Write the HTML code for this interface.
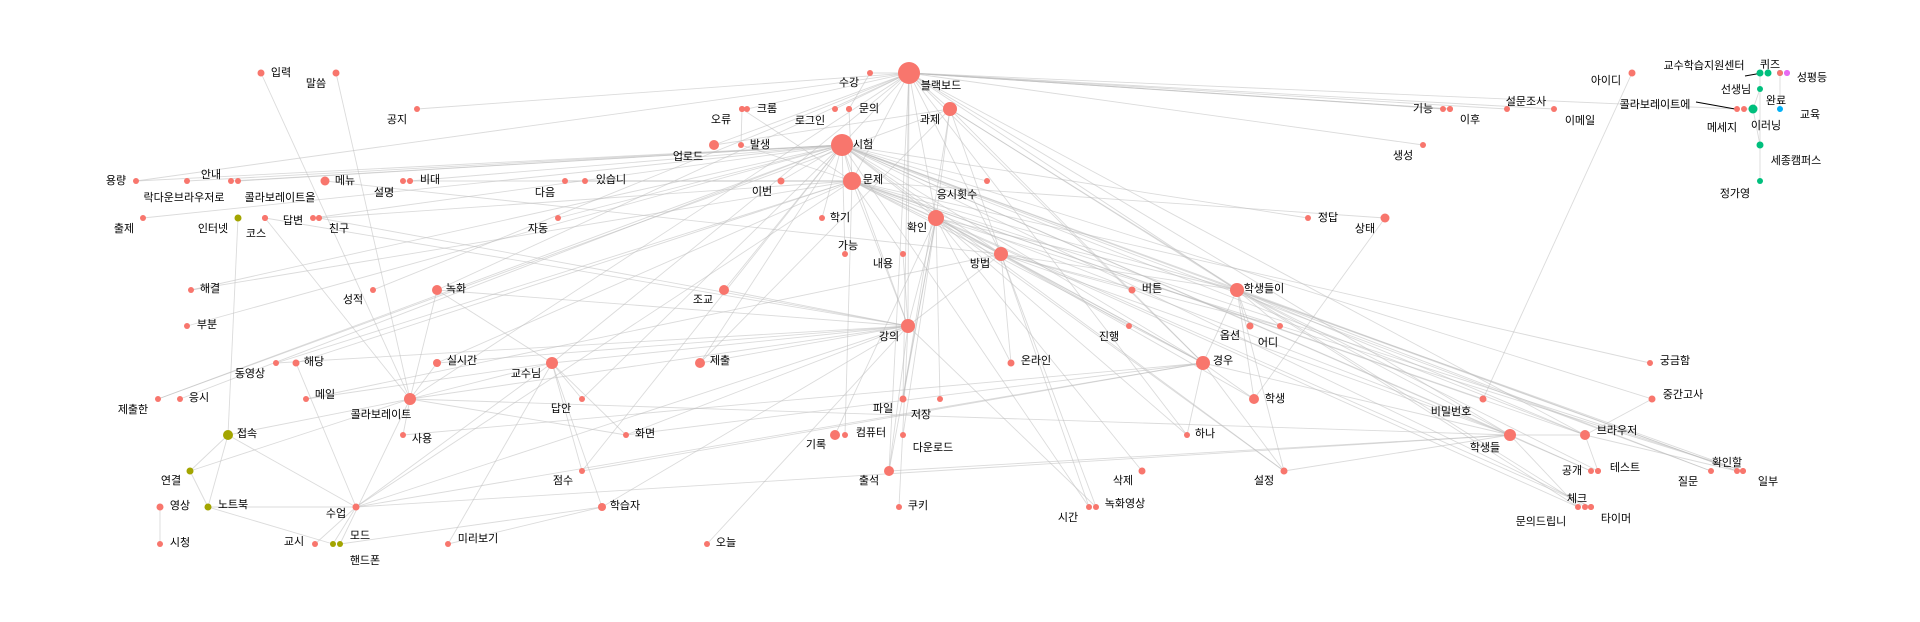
<!DOCTYPE html>
<html><head><meta charset="utf-8">
<style>
html,body{margin:0;padding:0;background:#fff;}
svg{display:block;}
text{font-family:"Liberation Sans","Noto Sans CJK KR","NanumGothic",sans-serif;font-size:11px;fill:#000;}
</style></head>
<body>
<svg id="chart" width="1920" height="622" viewBox="0 0 1920 622" xmlns="http://www.w3.org/2000/svg">
<g id="edges"></g>
<g id="extras">
  <line x1="1745" y1="76" x2="1762" y2="73" stroke="#000" stroke-width="1"/>
  <line x1="1696" y1="102" x2="1735" y2="109" stroke="#000" stroke-width="1"/>
</g>
<g id="nodes"></g>
<g id="labels"></g>
</svg>
<script>
// node data: name, x, y, radius, group, label x, label y
const names = ["블랙보드","수강","과제","크롬","오류","로그인","문의","시험","발생","업로드","문제","이번","응시횟수","학기","확인","가능","내용","방법","조교","버튼","학생들이","강의","진행","옵션","어디","제출","온라인","경우","파일","저장","학생","기록","컴퓨터","다운로드","하나","출석","삭제","설정","쿠키","시간","녹화영상","오늘",
"입력","말씀","공지","용량","락다운브라우저로","안내","콜라보레이트을","메뉴","설명","비대","다음","있습니","출제","인터넷","코스","답변","친구","자동","해결","성적","녹화","부분",
"해당","동영상","제출한","응시","메일","실시간","교수님","콜라보레이트","답안","사용","접속","화면","연결","점수","영상","노트북","수업","학습자","교시","핸드폰","모드","미리보기","시청",
"아이디","교수학습지원센터","퀴즈","파랑1","성평등","선생님","완료","교육","파랑2","콜라보레이트에","메세지","이러닝","기능","이후","설문조사","이메일","생성","세종캠퍼스","정가영","정답","상태",
"궁금함","중간고사","비밀번호","학생들","브라우저","공개","테스트","확인할","질문","일부","체크","문의드립니","타이머","안내2","설명2","답변2","크롬2","로그인2","기능2","공개2","확인할2","체크2"];
const nodeX = [909,870,950,742,742,835,849,842,741,714,852,781,987,822,936,845,903,1001,724,1132,1237,908,1129,1250,1280,700,1011,1203,903,940,1254,835,845,903,1187,889,1142,1284,899,1089,1096,707,
261,336,417,136,187,231,265,325,403,410,565,585,143,238,265,313,319,558,191,373,437,187,
296,276,158,180,306,437,552,410,582,403,228,626,190,582,160,208,356,602,315,333,340,448,160,
1632,1760,1768,1780,1787,1760,1780,1787,1780,1737,1744,1753,1443,1450,1507,1554,1423,1760,1760,1308,1385,
1650,1652,1483,1510,1585,1591,1598,1737,1711,1743,1578,1585,1591,238,410,319,747,849,1450,1598,1743,1591];
const nodeY = [73,73,109,109,109,109,109,145,145,145,181,181,181,218,218,254,254,254,290,290,290,326,326,326,326,363,363,363,399,399,399,435,435,435,435,471,471,471,507,507,507,544,
73,73,109,181,181,181,218,181,181,181,181,181,218,218,218,218,218,218,290,290,290,326,
363,363,399,399,399,363,363,399,399,435,435,435,471,471,507,507,507,507,544,544,544,544,544,
73,73,73,73,73,89,73,73,109,109,109,109,109,109,109,109,145,145,181,218,218,
363,399,399,435,435,471,471,471,471,471,507,507,507,181,181,218,109,109,109,471,471,507];
const nodeR = [11,3,7,3,3,3,3,11,3,5,9,3.5,3,3,8,3,3,7,5,3.5,7,7,3,3.5,3,5,3.5,7,3.5,3,5,5,3,3,3,5,3.5,3.5,3,3,3,3,
3.5,3.5,3,3,3,3,3,4.5,3,3,3,3,3,3.5,3,3,3,3,3,3,5,3,
3.5,3,3,3,3,4,6,6,3,3,5,3,3.5,3,3.5,3.5,3.5,4,3,3,3,3,3,
3.5,3.5,3.5,3,3,3,3,3,3,3,3,4.5,3,3,3,3,3,3.5,3,3,4.5,
3,3.5,3.5,6,5,3,3,3,3,3,3,3,3,3,3,3,3,3,3,3,3,3];
const nodeGroup = [];
const olive = ["인터넷","접속","연결","노트북","핸드폰","모드"];
const green = ["교수학습지원센터","퀴즈","선생님","콜라보레이트에2","이러닝","세종캠퍼스","정가영"];
const blue = ["파랑1","파랑2"];
const purple = ["성평등","교육"];
// label positions (center)
const labels = {"블랙보드":[941,85],"수강":[849,82],"과제":[930,119],"크롬":[767,108],"오류":[721,119],"로그인":[810,120],"문의":[869,108],"시험":[863,144],"발생":[760,144],"업로드":[688,156],"문제":[873,179],"이번":[762,191],"응시횟수":[957,194],"학기":[840,217],"확인":[917,227],"가능":[848,245],"내용":[883,263],"방법":[980,263],"조교":[703,299],"버튼":[1152,288],"학생들이":[1264,288],"강의":[889,336],"진행":[1109,336],"옵션":[1230,335],"어디":[1268,342],"제출":[720,360],"온라인":[1036,360],"경우":[1223,360],"파일":[883,408],"저장":[921,414],"학생":[1275,398],"기록":[816,444],"컴퓨터":[871,432],"다운로드":[933,447],"하나":[1205,433],"출석":[869,480],"삭제":[1123,480],"설정":[1264,480],"쿠키":[918,505],"시간":[1068,517],"녹화영상":[1125,503],"오늘":[726,542],
"입력":[281,72],"말씀":[316,83],"공지":[397,119],"용량":[116,180],"락다운브라우저로":[184,197],"안내":[211,174],"콜라보레이트을":[280,197],"메뉴":[345,180],"설명":[384,192],"비대":[430,179],"다음":[545,192],"있습니":[611,179],"출제":[124,228],"인터넷":[213,228],"코스":[256,233],"답변":[293,220],"친구":[339,228],"자동":[538,228],"해결":[210,288],"성적":[353,299],"녹화":[456,288],"부분":[207,324],
"해당":[314,361],"동영상":[250,373],"제출한":[133,409],"응시":[199,397],"메일":[325,394],"실시간":[462,360],"교수님":[526,373],"콜라보레이트":[381,414],"답안":[561,408],"사용":[422,438],"접속":[247,433],"화면":[645,433],"연결":[171,480],"점수":[563,480],"영상":[180,505],"노트북":[233,504],"수업":[336,513],"학습자":[625,505],"교시":[294,541],"핸드폰":[365,560],"모드":[360,535],"미리보기":[478,538],"시청":[180,542],
"아이디":[1606,80],"교수학습지원센터":[1704,65],"퀴즈":[1770,64],"성평등":[1812,77],"선생님":[1736,89],"완료":[1776,100],"교육":[1810,114],"콜라보레이트에":[1655,104],"메세지":[1722,127],"이러닝":[1766,125],"기능":[1423,108],"이후":[1470,119],"설문조사":[1526,101],"이메일":[1580,120],"생성":[1403,155],"세종캠퍼스":[1796,160],"정가영":[1735,193],"정답":[1328,217],"상태":[1365,228],
"궁금함":[1675,360],"중간고사":[1683,394],"비밀번호":[1451,411],"학생들":[1485,447],"브라우저":[1617,430],"공개":[1572,470],"테스트":[1625,467],"확인할":[1727,462],"질문":[1688,481],"일부":[1768,481],"체크":[1577,498],"문의드립니":[1541,521],"타이머":[1616,518]};
const hubEdges = {
"블랙보드":["수강","과제","시험","문제","확인","방법","강의","학생들이","경우","로그인","크롬2","공지","업로드","기능","설문조사","이메일","이후","교수님","콜라보레이트","학생들","브라우저","출석","파일","성적","녹화","하나","생성","콜라보레이트에","기능2","용량"],
"시험":["문제","확인","방법","강의","학생들이","경우","응시","제출한","응시횟수","학기","가능","점수","답안","정답","시간","타이머","중간고사","브라우저","학생들","락다운브라우저로","안내","비대","답변","출제","설정","공개","확인할","질문","부분","해결","이번","조교","자동","제출","용량","안내2"],
"문제":["확인","방법","강의","학생들이","경우","해결","답변2","문의","발생","오류","컴퓨터","브라우저","학생들","비밀번호","궁금함","체크","일부","해당","동영상","실시간","수업","다음","있습니","설명","이번","내용","상태"],
"확인":["방법","강의","학생들이","경우","파일","저장","다운로드","온라인","기록","출석","설정","학생","하나","삭제","확인할2","체크2"],
"방법":["강의","학생들이","경우","버튼","진행","녹화영상","시간","온라인","학생들","메뉴","메일","어디"],
"강의":["교수님","콜라보레이트","녹화","녹화영상","실시간","동영상","수업","출석","제출","화면","오늘","조교","학습자","쿠키","내용","친구","코스"],
"학생들이":["경우","학생","옵션","어디","학생들","브라우저","확인할","일부","질문","설정","공개2","체크"],
"경우":["학생","학생들","설정","하나","화면","사용","수업","점수"],
"교수님":["콜라보레이트","수업","답안","화면","점수","학습자","미리보기","메일","녹화"],
"콜라보레이트":["접속","연결","사용","실시간","모드","말씀","녹화","화면","학생들","입력","콜라보레이트을"],
"과제":["제출","파일","업로드","확인","방법","제출한","학생들이","경우","문의드립니"],
"학생들":["브라우저","체크","설정","수업","공개","출석"],
"브라우저":["테스트","중간고사","확인할"],
"수업":["핸드폰","해당","교시","노트북","접속"]
};
const pairEdges = [["인터넷","접속"],["접속","연결"],["접속","노트북"],["연결","노트북"],["영상","시청"],["노트북","핸드폰"],["모드","학습자"],["미리보기","학습자"],["선생님","이러닝"],["이러닝","세종캠퍼스"],["세종캠퍼스","정가영"],["교수학습지원센터","세종캠퍼스"],["파랑1","파랑2"],["성평등","교육"],["아이디","비밀번호"],["상태","학생"],["크롬","발생"],["수강","문의"],["메세지","이러닝"]];
</script>
<script>
const NS = "http://www.w3.org/2000/svg";
const idx = {};
names.forEach((n,i)=>{ idx[n]=i; });
const gE = document.getElementById('edges');
function addEdge(a,b){
  const i=idx[a], j=idx[b];
  if(i===undefined||j===undefined) return;
  const l=document.createElementNS(NS,'line');
  l.setAttribute('x1',nodeX[i]); l.setAttribute('y1',nodeY[i]);
  l.setAttribute('x2',nodeX[j]); l.setAttribute('y2',nodeY[j]);
  l.setAttribute('stroke','#bdbdbd'); l.setAttribute('stroke-opacity','0.55'); l.setAttribute('stroke-width','0.9');
  
  
  gE.appendChild(l);
}
Object.keys(hubEdges).forEach(h=>hubEdges[h].forEach(t=>addEdge(h,t)));
pairEdges.forEach(p=>addEdge(p[0],p[1]));
const gN = document.getElementById('nodes');
names.forEach((n,i)=>{
  let col="#F8766D";
  if(olive.includes(n)) col="#A3A500";
  else if(green.includes(n)||n==="이러닝"||(n==="콜라보레이트에"&&false)) col="#00BF7D";
  else if(blue.includes(n)) col="#00B0F6";
  else if(purple.includes(n)) col="#E76BF3";
  if(n==="이러닝") col="#00BF7D";
  const c=document.createElementNS(NS,'circle');
  c.setAttribute('cx',nodeX[i]); c.setAttribute('cy',nodeY[i]); c.setAttribute('r',nodeR[i]);
  c.setAttribute('fill',col);
  
  
  gN.appendChild(c);
});
const gL = document.getElementById('labels');
Object.keys(labels).forEach(n=>{
  const t=document.createElementNS(NS,'text');
  t.setAttribute('x',labels[n][0]); t.setAttribute('y',labels[n][1]+4);
  t.setAttribute('text-anchor','middle');
  t.textContent=n;
  
  
  gL.appendChild(t);
});
</script>
</body></html>
